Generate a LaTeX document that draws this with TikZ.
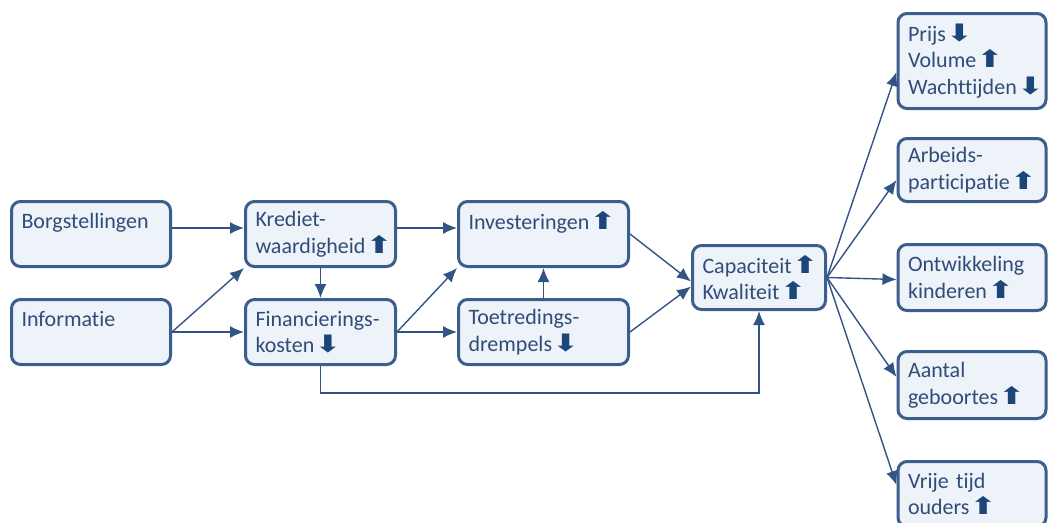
\documentclass[tikz,border=0pt]{standalone}
\usepackage{graphicx}
\usepackage{fontspec}
\setmainfont{Carlito}[RawFeature={-liga;-clig;-dlig;-calt;-rlig}]
\newfontfamily\symfont{DejaVu Sans}
\usetikzlibrary{arrows.meta}
\definecolor{boxfill}{RGB}{238,243,249}
\definecolor{boxline}{RGB}{60,94,140}
\definecolor{boxtext}{RGB}{48,76,120}
\definecolor{linkc}{RGB}{50,84,132}
\definecolor{symc}{RGB}{28,70,122}
\newcommand{\up}{{\symfont\fontsize{24}{24}\selectfont\color{symc}\scalebox{1.35}[1]{⬆}}}
\newcommand{\dn}{{\symfont\fontsize{24}{24}\selectfont\color{symc}\scalebox{1.35}[1]{⬇}}}

\begin{document}
\begin{tikzpicture}[x=1pt,y=-1pt]
        \tikzset{box/.style = {draw=boxline, fill=boxfill, line width=3pt, rounded corners=9pt,
                 text=boxtext, align=left, inner xsep=10pt, inner ysep=0pt,
                 font=\fontsize{22}{26.5}\selectfont}}
        \tikzset{edge/.style = {draw=linkc, line width=1.4pt, -{Latex[length=14pt,width=12pt]}}}
        \useasboundingbox (0,0) rectangle (1049,522);
        \clip (0,0) rectangle (1049,522);

        \node[box, minimum width=159, minimum height=65, text width=139] (borg) at (91, 234) {Borgstellingen\\ \mbox{}};
        \node[box, minimum width=159, minimum height=65, text width=139] (info) at (91, 332) {Informatie\\ \mbox{}};
        \node[box, minimum width=150, minimum height=65, text width=130] (kred) at (320.5, 234) {Krediet-\\waardigheid\up};
        \node[box, minimum width=150, minimum height=65, text width=130] (fin) at (320.5, 332) {Financierings-\\kosten\dn};
        \node[box, minimum width=170, minimum height=65, text width=150] (inv) at (543.5, 234) {Investeringen\up\\ \mbox{}};
        \node[box, minimum width=170, minimum height=65, text width=150] (toe) at (543.5, 332) {Toetredings-\\drempels\dn};
        \node[box, minimum width=133, minimum height=64, text width=113] (cap) at (759, 277.5) {Capaciteit\up\\Kwaliteit\up};

        \node[box, minimum width=148, minimum height=95, text width=128] (prijs) at (972, 61) {Prijs\dn\\Volume\up\\Wachttijden\dn};
        \node[box, minimum width=148, minimum height=63, text width=128] (arb) at (972, 170) {Arbeids-\\participatie\up};
        \node[box, minimum width=148, minimum height=66, text width=128] (ont) at (972, 277.5) {Ontwikkeling\\kinderen\up};
        \node[box, minimum width=148, minimum height=67, text width=128] (aant) at (972, 385) {Aantal\\geboortes\up};
        \node[box, minimum width=148, minimum height=65, text width=128] (vrij) at (972, 494) {Vrije tijd\\ouders\up};

        \draw[edge] ([yshift=6pt]borg.east) to ([yshift=6pt]kred.west);
        \draw[edge] (info.east) to (kred.south west);
        \draw[edge] (info.east) to (fin.west);
        \draw[edge] (kred.south) to (fin.north);
        \draw[edge] ([yshift=6pt]kred.east) to ([yshift=6pt]inv.west);
        \draw[edge] (fin.east) to (inv.south west);
        \draw[edge] (fin.east) to (toe.west);
        \draw[edge] (toe.north) to (inv.south);
        \draw[edge] (inv.east) to ([yshift=-4pt]cap.west);
        \draw[edge] (toe.east) to ([yshift=-9pt]cap.west);
        \draw[edge] (fin.south) -- ++(0,27) -| (cap.south);

        \draw[edge] (cap.east) to ([yshift=-11pt]prijs.west);
        \draw[edge] (cap.east) to ([yshift=-10pt]arb.west);
        \draw[edge] (cap.east) to ([yshift=-2pt]ont.west);
        \draw[edge] (cap.east) to ([yshift=8pt]aant.west);
        \draw[edge] (cap.east) to ([yshift=9pt]vrij.west);
      \end{tikzpicture}
\end{document}
